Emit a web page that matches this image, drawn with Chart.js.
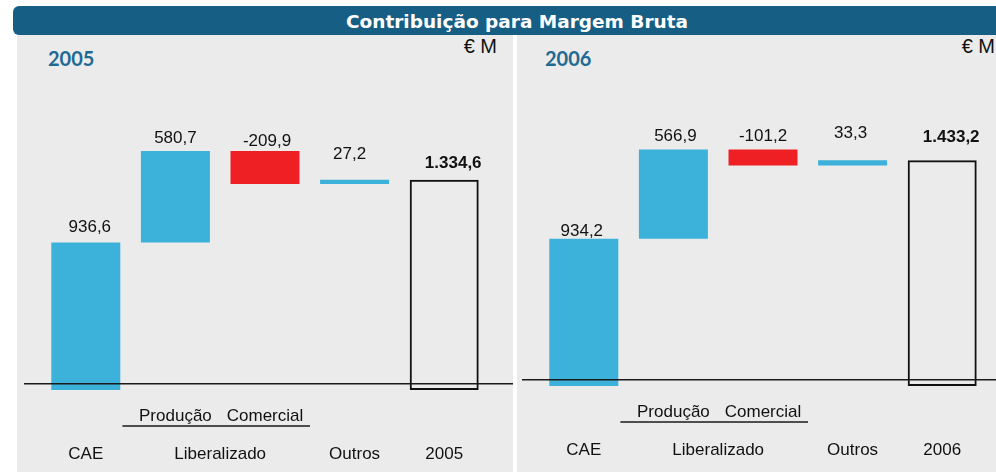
<!DOCTYPE html>
<html>
<head>
<meta charset="utf-8">
<script src="https://cdn.jsdelivr.net/npm/chart.js@4/dist/chart.umd.min.js"></script>
<style>
  html, body { margin: 0; padding: 0; background: #fff; }
  body { width: 996px; height: 472px; position: relative; overflow: hidden; font-family: "Liberation Sans", Arial, sans-serif; }
  .header { position: absolute; left: 13px; top: 6px; width: 1008px; height: 29px; background: #175e85; border-radius: 6px; overflow: hidden; }
  .title { position: absolute; left: 0; right: 0; top: 5px; line-height: 20px; text-align: center; color: #fff; font: bold 18.5px "DejaVu Sans", Lato, sans-serif; }
  .panel { position: absolute; top: 35px; height: 437px; background: #ebebeb; }
  .year { position: absolute; top: 11px; line-height: 20px; color: #1f6a93; font: bold 20px Lato, "Open Sans", sans-serif; }
  .unit { position: absolute; top: 1px; line-height: 20px; font-size: 20px; color: #111; }
  canvas { position: absolute; }
</style>
</head>
<body>
<div class="panel" style="left:17px;width:496px;">
  <div class="year" style="left:31px;">2005</div>
  <div class="unit" style="right:16px;">€ M</div>
</div>
<div class="panel" style="left:517px;width:479px;">
  <div class="year" style="left:28px;">2006</div>
  <div class="unit" style="right:1px;">€ M</div>
</div>
<div class="header"><div class="title">Contribuição para Margem Bruta</div></div>

<div style="position:absolute;left:17px;top:35px;width:496px;height:445px;"><canvas id="chart2005"></canvas></div>
<div style="position:absolute;left:517px;top:31px;width:479px;height:445px;"><canvas id="chart2006"></canvas></div>

<script>
// categories (two label rows + group label)
const topRow = ['', 'Produção', 'Comercial', '', ''];
const bottomRow2005 = ['CAE', '', '', 'Outros', '2005'];
const bottomRow2006 = ['CAE', '', '', 'Outros', '2006'];
const groupLabel = 'Liberalizado';

// values (€ M): CAE, produção, comercial, outros, total
const values2005 = [936.6, 580.7, -209.9, 27.2, 1334.6];
const values2006 = [934.2, 566.9, -101.2, 33.3, 1433.2];
const labels2005 = ['936,6', '580,7', '-209,9', '27,2', '1.334,6'];
const labels2006 = ['934,2', '566,9', '-101,2', '33,3', '1.433,2'];

const BLUE = '#3cb1d9';
const RED = '#ee2024';
const TEXT = '#111';

/**
 * Turns the deltas into floating [start, end] bars, last one is the total
 */
function waterfall(values) {
  const bars = [];
  let run = 0;
  values.forEach(function (v, i) {
    if (i === values.length - 1) {
      bars.push([0, v]);
    } else {
      bars.push([run, run + v]);
      run += v;
    }
  });
  return bars;
}

/**
 * Value labels, the "Liberalizado" group label and the base line
 */
const extrasPlugin = {
  id: 'extras',
  afterDatasetsDraw(chart, args, opts) {
    const ctx = chart.ctx;
    const x = chart.scales.x;
    const y = chart.scales.y;
    const bars = chart.data.datasets[0].data;

    // base line
    const ly = y.getPixelForValue(opts.lineValue);
    ctx.save();
    ctx.strokeStyle = '#1a1a1a';
    ctx.lineWidth = 1.5;
    ctx.beginPath();
    ctx.moveTo(opts.lineStart, ly);
    ctx.lineTo(chart.width, ly);
    ctx.stroke();

    // value labels
    ctx.fillStyle = TEXT;
    ctx.textAlign = 'center';
    ctx.textBaseline = 'middle';
    bars.forEach(function (b, i) {
      const top = y.getPixelForValue(Math.max(b[0], b[1]));
      const last = i === bars.length - 1;
      ctx.font = (last ? 'bold ' : '') + '17px "Liberation Sans", Arial, sans-serif';
      ctx.fillText(opts.texts[i], x.getPixelForValue(i) + opts.dx[i], top - opts.lift[i]);
    });

    // group label + underline
    const x1 = x.getPixelForValue(1);
    const x2 = x.getPixelForValue(2);
    const row1 = x.top + 7 + 19;
    ctx.font = '17px "Liberation Sans", Arial, sans-serif';
    ctx.fillText(groupLabel, (x1 + x2) / 2, row1 + 38);
    ctx.lineWidth = 1.3;
    ctx.beginPath();
    ctx.moveTo(x1 - 53, row1 + 10);
    ctx.lineTo(x2 + 45, row1 + 10);
    ctx.stroke();
    ctx.restore();
  }
};

function createWaterfall(id, values, texts, bottomRow, style) {
  const ctx = document.getElementById(id).getContext('2d');
  return new Chart(ctx, {
    type: 'bar',
    data: {
      labels: topRow.map(function (t, i) { return [t, bottomRow[i]]; }),
      datasets: [{
        data: waterfall(values),
        backgroundColor: [BLUE, BLUE, RED, BLUE, 'rgba(0,0,0,0)'],
        borderColor: '#111',
        borderWidth: [0, 0, 0, 0, 2],
        borderSkipped: false,
        categoryPercentage: 1,
        barPercentage: 0.77
      }]
    },
    options: {
      responsive: true,
      maintainAspectRatio: false,
      animation: false,
      layout: { padding: { left: style.padLeft, right: style.padRight, top: 40, bottom: 0 } },
      scales: {
        x: {
          grid: { display: false, drawTicks: false },
          border: { display: false },
          ticks: {
            color: TEXT,
            padding: 7,
            maxRotation: 0,
            autoSkip: false,
            font: { family: '"Liberation Sans", Arial, sans-serif', size: 17, lineHeight: '38px' }
          }
        },
        y: { display: false, min: 0, max: 2000 }
      },
      plugins: {
        legend: { display: false },
        tooltip: { enabled: false },
        extras: {
          texts: texts,
          lift: style.lift,
          dx: style.dx,
          lineValue: 40,
          lineStart: style.lineStart
        }
      }
    },
    plugins: [extrasPlugin]
  });
}

function initCharts() {
  createWaterfall('chart2005', values2005, labels2005, bottomRow2005,
    { padLeft: 24, padRight: 24, lift: [15, 13, 9.5, 25, 16], dx: [4, 0, 2, -5, 9], lineStart: 7 });
  createWaterfall('chart2006', values2006, labels2006, bottomRow2006,
    { padLeft: 22, padRight: 9, lift: [7.5, 13, 13, 27, 23], dx: [-2, 2, 0, -2, 9], lineStart: 5 });
}

document.addEventListener('DOMContentLoaded', initCharts);
</script>
</body>
</html>
